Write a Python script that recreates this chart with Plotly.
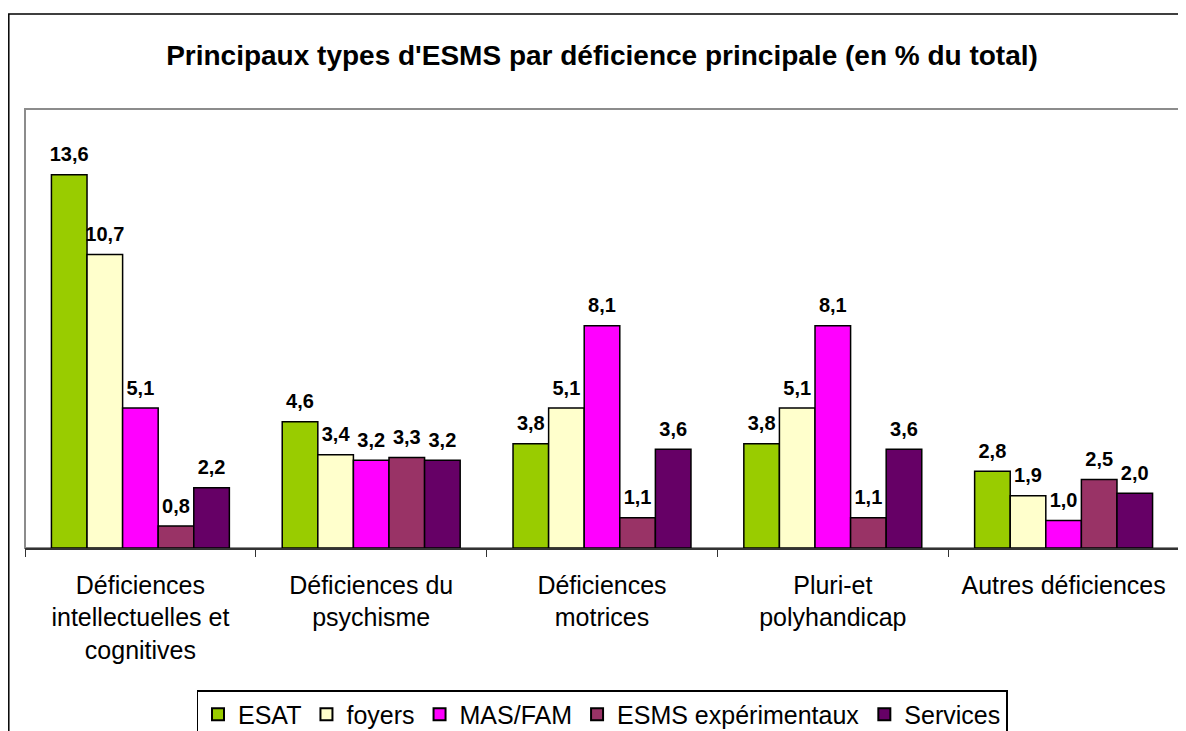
import plotly.graph_objects as go

categories = [
    "Déficiences<br>intellectuelles et<br>cognitives",
    "Déficiences du<br>psychisme",
    "Déficiences<br>motrices",
    "Pluri-et<br>polyhandicap",
    "Autres déficiences",
]
series_names = ["ESAT", "foyers", "MAS/FAM", "ESMS expérimentaux", "Services"]
esat = [13.6, 4.6, 3.8, 3.8, 2.8]
foyers = [10.7, 3.4, 5.1, 5.1, 1.9]
mas_fam = [5.1, 3.2, 8.1, 8.1, 1.0]
esms_exp = [0.8, 3.3, 1.1, 1.1, 2.5]
services = [2.2, 3.2, 3.6, 3.6, 2.0]
series_values = [esat, foyers, mas_fam, esms_exp, services]
colors = ["#99CC00", "#FFFFCC", "#FF00FF", "#993366", "#660066"]

FONT = "Arial, Liberation Sans, sans-serif"

# page has an 8px body margin: figure drawn at (8, 8)
W, H = 1178, 723
L, R, T, B = 17, 7, 101, 183
PH = H - T - B

fig = go.Figure()
for name, vals, col in zip(series_names, series_values, colors):
    fig.add_trace(go.Bar(
        name=name, x=categories, y=vals,
        marker=dict(color=col, line=dict(color="black", width=1.5)),
        hoverinfo="skip",
    ))
# value labels, grouped like the bars
for name, vals in zip(series_names, series_values):
    fig.add_trace(go.Scatter(
        x=categories, y=vals, mode="markers+text", showlegend=False,
        marker=dict(size=12, opacity=0),
        texttemplate="%{y:.1f}", textposition="top center",
        textfont=dict(family=FONT, size=20, color="black", weight="bold"),
        cliponaxis=False, hoverinfo="skip",
    ))

fig.update_layout(
    width=W, height=H,
    margin=dict(l=L, r=R, t=T, b=B, autoexpand=False),
    paper_bgcolor="white", plot_bgcolor="white",
    separators=", ",
    barmode="group", bargap=0.229, bargroupgap=0,
    scattermode="group", scattergap=0.229,
    font=dict(family=FONT, color="black"),
    title=dict(text="<b>Principaux types d'ESMS par déficience principale (en % du total)</b>",
               x=0.5, xref="paper", xanchor="center", y=1 - 47 / H, yref="container", yanchor="middle",
               font=dict(family=FONT, size=28, color="black")),
    showlegend=True,
    legend=dict(orientation="h", x=0.5, xanchor="center", y=-(B - 41) / PH, yanchor="top",
                font=dict(family=FONT, size=25, color="black"),
                bordercolor="black", borderwidth=1.5, bgcolor="white",
                itemsizing="constant", tracegroupgap=0),
    xaxis=dict(showline=True, linecolor="#333333", linewidth=1.5, ticks="outside", tickson="boundaries",
               ticklen=7, tickcolor="#333333", tickwidth=1.2, showgrid=False, automargin=False,
               tickfont=dict(family=FONT, size=25, color="black"), ticklabelstandoff=14),
    yaxis=dict(range=[0, 16], showgrid=False, showticklabels=False, zeroline=False, ticks="",
               showline=False, automargin=False),
    shapes=[
        dict(type="rect", xref="paper", yref="paper", x0=0, x1=1, y0=0, y1=1,
             line=dict(color="#8C8C8C", width=2), layer="below"),
        dict(type="rect", xref="paper", yref="paper", x0=(0.8 - L) / (W - L - R), x1=1.05,
             y0=-0.6, y1=(PH + T - 6) / PH,
             line=dict(color="black", width=1.5), layer="below"),
    ],
)

fig.write_html("out.html")
